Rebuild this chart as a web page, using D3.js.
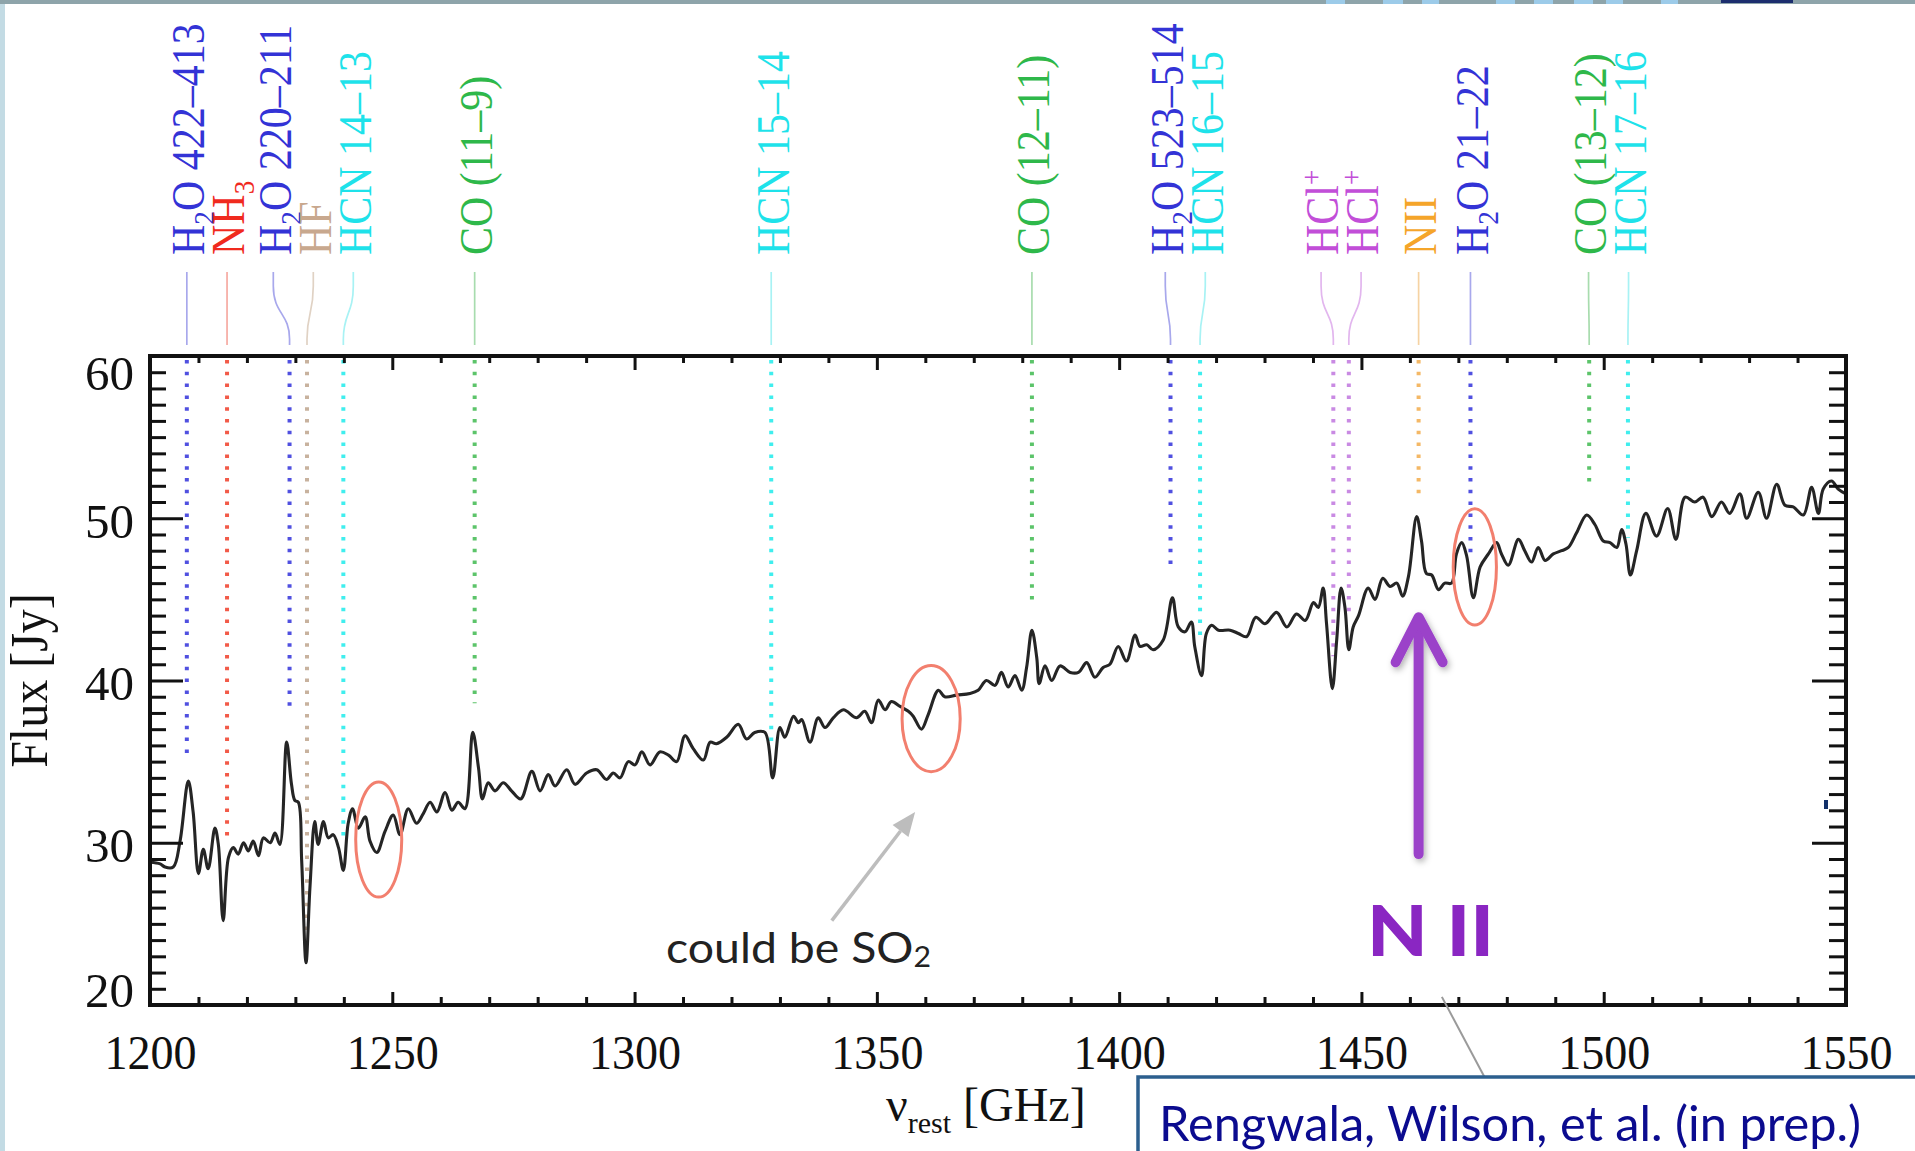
<!DOCTYPE html>
<html>
<head>
<meta charset="utf-8">
<script src="https://cdn.jsdelivr.net/npm/d3@7"></script>
<style>
  html, body { margin: 0; padding: 0; background: #fff; }
  svg { display: block; }
</style>
</head>
<body>
<svg id="chart" width="1915" height="1151"></svg>
<script>
// ---------------------------------------------------------------
// Spectrum: rest frequency (GHz) and flux density (Jy)
// ---------------------------------------------------------------
const freqGHz = [
  1200.0, 1202.1, 1203.1, 1204.8, 1206.2, 1207.9, 1208.9, 1210.0, 1211.0, 1212.0,
  1213.4, 1214.1, 1215.1, 1216.2, 1217.2, 1218.2, 1219.3, 1220.3, 1221.3, 1222.4,
  1223.4, 1224.8, 1225.8, 1226.8, 1228.2, 1229.2, 1229.9, 1230.6, 1231.3, 1232.2,
  1233.0, 1234.0, 1234.7, 1235.8, 1236.8, 1237.8, 1238.9, 1239.9, 1240.9, 1241.8,
  1243.0, 1244.4, 1245.4, 1246.8, 1248.5, 1250.2, 1251.6, 1253.3, 1255.0, 1256.4,
  1257.8, 1259.2, 1260.9, 1262.3, 1263.6, 1265.0, 1266.6, 1267.8, 1268.6, 1269.8,
  1271.2, 1272.9, 1274.6, 1276.5, 1278.8, 1280.5, 1282.2, 1283.6, 1286.0, 1287.7,
  1290.1, 1292.2, 1294.2, 1295.6, 1297.0, 1298.7, 1300.1, 1301.5, 1303.2, 1305.2,
  1307.0, 1308.7, 1310.4, 1312.1, 1314.2, 1315.6, 1316.9, 1319.0, 1321.4, 1323.1,
  1324.8, 1326.9, 1328.5, 1330.0, 1331.0, 1332.8, 1333.8, 1334.5, 1336.2, 1337.9,
  1339.3, 1341.0, 1343.1, 1345.8, 1347.5, 1348.9, 1350.3, 1351.7, 1353.0, 1354.8,
  1356.5, 1357.5, 1359.2, 1360.6, 1362.7, 1364.0, 1366.5, 1369.2, 1370.9, 1372.6,
  1374.4, 1375.7, 1377.1, 1378.5, 1379.9, 1380.9, 1382.0, 1383.0, 1383.5, 1384.7,
  1386.1, 1387.8, 1389.9, 1391.6, 1393.3, 1395.0, 1396.7, 1398.1, 1399.8, 1401.5,
  1403.3, 1404.3, 1405.7, 1407.0, 1409.1, 1411.0, 1412.2, 1413.6, 1414.9, 1415.6,
  1417.0, 1418.0, 1419.1, 1420.5, 1422.9, 1424.6, 1426.3, 1428.2, 1430.1, 1432.5,
  1434.6, 1436.6, 1438.4, 1440.1, 1441.1, 1442.1, 1442.8, 1444.0, 1444.9, 1445.8,
  1446.6, 1447.4, 1448.3, 1449.4, 1451.4, 1452.8, 1454.4, 1455.9, 1457.3, 1458.5,
  1459.7, 1461.4, 1462.4, 1463.4, 1464.5, 1465.9, 1467.2, 1468.6, 1469.6, 1470.7,
  1471.7, 1473.1, 1474.5, 1476.2, 1477.9, 1478.9, 1480.3, 1482.4, 1483.7, 1485.1,
  1486.5, 1487.9, 1489.6, 1491.3, 1492.7, 1494.4, 1496.5, 1498.2, 1499.9, 1501.3,
  1502.7, 1503.7, 1504.6, 1505.5, 1506.8, 1508.7, 1510.9, 1513.2, 1514.9, 1516.8,
  1518.8, 1520.5, 1522.3, 1524.3, 1526.0, 1528.1, 1529.5, 1531.9, 1533.6, 1535.7,
  1537.4, 1539.1, 1541.2, 1542.9, 1544.3, 1545.3, 1547.0, 1548.4, 1550.0
];
const fluxJy = [
  28.8, 28.7, 28.5, 28.5, 30.1, 33.8, 31.9, 28.1, 29.6, 28.4,
  30.9, 29.9, 25.2, 29.1, 29.7, 29.3, 30.0, 29.5, 30.1, 29.2,
  30.3, 30.0, 30.6, 29.9, 36.2, 33.6, 32.6, 32.5, 28.9, 22.6,
  27.2, 31.3, 29.9, 31.3, 30.3, 30.5, 29.7, 28.3, 31.2, 32.1,
  30.9, 31.6, 30.1, 29.4, 30.7, 31.7, 30.5, 32.1, 31.2, 31.8,
  32.5, 31.9, 33.1, 32.0, 32.5, 32.1, 36.8, 34.6, 32.7, 33.7,
  33.2, 33.7, 33.2, 32.7, 34.4, 33.2, 34.2, 33.5, 34.5, 33.6,
  34.3, 34.5, 33.9, 34.3, 34.0, 35.0, 34.8, 35.6, 34.8, 35.6,
  35.4, 35.0, 36.6, 35.8, 35.1, 36.2, 36.1, 36.5, 37.3, 36.4,
  36.8, 36.8, 34.0, 37.1, 36.5, 37.8, 37.4, 37.6, 36.2, 37.7,
  37.1, 37.7, 38.2, 37.7, 38.1, 37.4, 38.8, 38.2, 38.7, 38.4,
  38.1, 37.8, 37.0, 37.9, 39.4, 39.0, 39.1, 39.2, 39.4, 40.0,
  39.7, 40.5, 39.6, 40.3, 39.4, 40.8, 43.1, 41.4, 39.8, 40.9,
  40.0, 40.9, 40.5, 40.5, 41.1, 40.2, 40.8, 41.0, 42.1, 41.2,
  42.8, 42.1, 42.2, 41.9, 42.5, 45.1, 43.3, 43.0, 43.6, 42.1,
  40.3, 42.9, 43.4, 43.1, 43.1, 42.9, 42.7, 43.9, 43.5, 44.2,
  43.3, 44.1, 43.7, 44.8, 44.5, 45.7, 43.5, 39.5, 42.5, 45.7,
  44.5, 41.9, 43.3, 44.0, 45.7, 45.0, 46.3, 45.8, 46.0, 45.2,
  46.4, 50.1, 48.6, 46.6, 46.5, 45.6, 46.0, 46.0, 47.8, 48.5,
  47.7, 45.1, 47.0, 47.8, 48.5, 47.8, 47.1, 48.7, 48.0, 47.3,
  48.2, 47.4, 47.8, 48.0, 48.2, 49.1, 50.2, 49.6, 48.6, 48.5,
  48.2, 49.3, 48.4, 46.5, 48.0, 50.3, 48.9, 50.6, 48.7, 51.3,
  51.0, 51.3, 50.1, 51.0, 50.3, 51.5, 50.0, 51.6, 50.0, 52.1,
  50.8, 50.7, 50.2, 51.9, 50.3, 51.8, 52.3, 51.8, 51.5
];

// ---------------------------------------------------------------
// Line identifications ("_x" = subscript, "^x" = superscript)
// ---------------------------------------------------------------
const lineLabels = [
  "H_2O 422–413", "NH_3", "H_2O 220–211", "HF", "HCN 14–13", "CO (11–9)",
  "HCN 15–14", "CO (12–11)", "H_2O 523–514", "HCN 16–15", "HCl^+", "HCl^+",
  "NII", "H_2O 21–22", "CO (13–12)", "HCN 17–16"
];
const lineFreqs = [
  1207.6, 1215.9, 1228.8, 1232.4, 1239.9, 1267.0,
  1328.2, 1382.0, 1410.6, 1416.7, 1444.2, 1447.4,
  1461.8, 1472.5, 1497.0, 1505.0
];
const lineSpecies = [
  "H2O", "NH3", "H2O", "HF", "HCN", "CO",
  "HCN", "CO", "H2O", "HCN", "HClp", "HClp",
  "NII", "H2O", "CO", "HCN"
];
// flux level (Jy) where each marker line stops
const lineStopJy = [
  35.5, 30.3, 38.0, 24.1, 30.4, 38.6,
  36.2, 44.9, 47.0, 42.3, 41.5, 43.8,
  51.1, 47.6, 52.2, 48.8
];

// Axis ticks
const xMajorTicks = [1200, 1250, 1300, 1350, 1400, 1450, 1500, 1550];
const yMajorTicks = [20, 30, 40, 50, 60];

// Circled features: centre (GHz, Jy) and half extents (GHz, Jy)
const circleFreq = [1247.2, 1361.2, 1473.4];
const circleFlux = [30.2, 37.65, 47.0];
const circleHalfGHz = [4.75, 6.0, 4.46];
const circleHalfJy = [3.55, 3.27, 3.58];

// Annotation anchor points (GHz, Jy)
const so2ArrowFreq = [1340.7, 1357.9];
const so2ArrowFlux = [25.2, 31.9];
const nIIArrowFlux = [29.3, 43.9];
const calloutFreq = [1466.6, 1475.5];
const calloutFlux = [20.5, 15.5];

// ---------------------------------------------------------------
const W = 1915, H = 1151;
const plot = { left: 150, right: 1846, top: 356, bottom: 1005 };
const serif = "'Liberation Serif', 'Times New Roman', serif";
const sans = "Lato, 'Open Sans', sans-serif";

const speciesColor = {
  H2O:  { text: "#3333d6", dots: "#5050e0", link: "#a8a8ec" },
  NH3:  { text: "#f02a1e", dots: "#f25a48", link: "#f6aaa2" },
  HF:   { text: "#c8a88e", dots: "#c8b29e", link: "#e0d2c4" },
  HCN:  { text: "#1ee2ea", dots: "#40eeee", link: "#a8f2f4" },
  CO:   { text: "#2eb84a", dots: "#5cc46a", link: "#a8dcae" },
  HClp: { text: "#c24ed8", dots: "#c98ae3", link: "#e2b6ee" },
  NII:  { text: "#f5a52a", dots: "#f4b866", link: "#f6d3a3" }
};

const svg = d3.select("#chart");

const x = d3.scaleLinear().domain([1200, 1550]).range([plot.left, plot.right]);
const y = d3.scaleLinear().domain([20, 60]).range([plot.bottom, plot.top]);

const defs = svg.append("defs");
const shadow = defs.append("filter").attr("id", "arrowShadow")
  .attr("x", "-50%").attr("y", "-20%").attr("width", "200%").attr("height", "140%");
shadow.append("feDropShadow").attr("dx", 2).attr("dy", 3)
  .attr("stdDeviation", 3).attr("flood-color", "#000").attr("flood-opacity", 0.3);

// background and outer frame of the slide
svg.append("rect").attr("width", W).attr("height", H).attr("fill", "#fff");
svg.append("rect").attr("x", 0).attr("y", 0).attr("width", 5).attr("height", H).attr("fill", "#c3dbe4");
svg.append("rect").attr("x", 0).attr("y", 0).attr("width", W).attr("height", 4).attr("fill", "#8ea4aa");
// strip of the slide header visible at top right
[[1326, 19], [1383, 20], [1422, 17], [1496, 19], [1534, 19], [1574, 19], [1606, 17], [1661, 17]]
  .forEach(([bx, bw]) => svg.append("rect").attr("x", bx).attr("y", 0).attr("width", bw).attr("height", 4).attr("fill", "#9ccbe9"));
svg.append("rect").attr("x", 1721).attr("y", 0).attr("width", 72).attr("height", 3).attr("fill", "#1c2e6e");

// ---------------------------------------------------------------
// Line markers: labels above the frame, connectors, dotted drops
// ---------------------------------------------------------------
function spread(pos, gap) {
  const p = pos.slice();
  for (let it = 0; it < 300; it++) {
    let moved = false;
    for (let i = 1; i < p.length; i++) {
      const d = p[i] - p[i - 1];
      if (d < gap - 0.01) {
        const s = (gap - d) / 2;
        p[i - 1] -= s; p[i] += s; moved = true;
      }
    }
    if (!moved) break;
  }
  return p;
}

const lineX = lineFreqs.map(f => x(f));
const labelX = spread(lineX, 40);

const labelFont = 42, labelStretch = 1.1;
const labelBottom = 255, linkTop = 272, linkBottom = 345;

const markers = svg.append("g").attr("class", "line-markers");

lineFreqs.forEach((f, i) => {
  const c = speciesColor[lineSpecies[i]];
  const lx = labelX[i], px = lineX[i];

  // connector from label to the frame
  const path = d3.path();
  path.moveTo(lx, linkTop);
  path.lineTo(lx, linkTop + 14);
  path.bezierCurveTo(lx, linkTop + 42, px, linkBottom - 32, px, linkBottom - 6);
  path.lineTo(px, linkBottom);
  markers.append("path").attr("d", path.toString())
    .attr("fill", "none").attr("stroke", c.link).attr("stroke-width", 1.7);

  // dotted drop inside the frame
  markers.append("line")
    .attr("x1", px).attr("x2", px)
    .attr("y1", plot.top + 4).attr("y2", y(lineStopJy[i]))
    .attr("stroke", c.dots).attr("stroke-width", 4)
    .attr("stroke-dasharray", "3.5 8.3");

  // rotated label
  const cx = lx + 2;
  const tx = cx + labelStretch * 0.331 * labelFont;
  const t = markers.append("text")
    .attr("transform", `translate(${tx},${labelBottom}) rotate(-90) scale(1,${labelStretch})`)
    .attr("font-family", serif).attr("font-size", labelFont)
    .attr("fill", c.text);
  const parts = lineLabels[i].split(/([_^].)/).filter(s => s.length);
  let pendingShift = 0;
  parts.forEach(p => {
    if (p[0] === "_") {
      t.append("tspan").attr("font-size", labelFont * 0.65).attr("dy", 9 + pendingShift).text(p[1]);
      pendingShift = -9;
    } else if (p[0] === "^") {
      t.append("tspan").attr("font-size", labelFont * 0.65).attr("dy", -16 + pendingShift).text(p[1]);
      pendingShift = 16;
    } else {
      t.append("tspan").attr("dy", pendingShift).text(p);
      pendingShift = 0;
    }
  });
});

// ---------------------------------------------------------------
// Spectrum
// ---------------------------------------------------------------
const spectrum = d3.zip(freqGHz, fluxJy);
svg.append("path")
  .datum(spectrum)
  .attr("fill", "none")
  .attr("stroke", "#252525")
  .attr("stroke-width", 3.1)
  .attr("stroke-linejoin", "round")
  .attr("d", d3.line().x(d => x(d[0])).y(d => y(d[1])).curve(d3.curveCatmullRom.alpha(0.5)));

// circled features
circleFreq.forEach((f, i) => {
  svg.append("ellipse")
    .attr("cx", x(f)).attr("cy", y(circleFlux[i]))
    .attr("rx", x(f + circleHalfGHz[i]) - x(f))
    .attr("ry", y(circleFlux[i] - circleHalfJy[i]) - y(circleFlux[i]))
    .attr("fill", "none").attr("stroke", "#f27f6e").attr("stroke-width", 3);
});

// ---------------------------------------------------------------
// Frame and axes (ticks point inward)
// ---------------------------------------------------------------
const axisColor = "#111";
const xMinor = d3.range(1200, 1551, 10).filter(v => v % 50 !== 0);
const yMinor = d3.range(20, 61, 1).filter(v => v % 10 !== 0);

function styleAxis(g) {
  g.attr("color", axisColor).attr("font-family", null).attr("font-size", null);
  g.select(".domain").remove();
  g.selectAll(".tick line").attr("stroke-width", 3);
  g.selectAll(".tick text").filter(function () { return !this.textContent; }).remove();
}

// bottom
svg.append("g").attr("transform", `translate(0,${plot.bottom})`)
  .call(d3.axisBottom(x).tickValues(xMinor).tickSize(-8).tickFormat(""))
  .call(styleAxis);
const gxb = svg.append("g").attr("transform", `translate(0,${plot.bottom})`)
  .call(d3.axisBottom(x).tickValues(xMajorTicks).tickSize(-13).tickPadding(29).tickFormat(d3.format("d")))
  .call(styleAxis);
gxb.selectAll("text").attr("font-family", serif).attr("font-size", 49).attr("fill", axisColor)
  .attr("transform", "scale(0.94,1)");

// top
svg.append("g").attr("transform", `translate(0,${plot.top})`)
  .call(d3.axisTop(x).tickValues(xMinor).tickSize(-7).tickFormat(""))
  .call(styleAxis);
svg.append("g").attr("transform", `translate(0,${plot.top})`)
  .call(d3.axisTop(x).tickValues(xMajorTicks).tickSize(-14).tickFormat(""))
  .call(styleAxis);

// left
svg.append("g").attr("transform", `translate(${plot.left},0)`)
  .call(d3.axisLeft(y).tickValues(yMinor).tickSize(-16).tickFormat(""))
  .call(styleAxis);
const gyl = svg.append("g").attr("transform", `translate(${plot.left},0)`)
  .call(d3.axisLeft(y).tickValues(yMajorTicks).tickSize(-33).tickPadding(16).tickFormat(d3.format("d")))
  .call(styleAxis);
gyl.selectAll("text")
  .attr("font-family", serif).attr("font-size", 49).attr("fill", axisColor)
  .attr("y", d => {
    const c = Math.max(plot.top + 18, Math.min(plot.bottom - 14, y(d) + 3.5));
    return c - y(d);
  });

// right
svg.append("g").attr("transform", `translate(${plot.right},0)`)
  .call(d3.axisRight(y).tickValues(yMinor).tickSize(-17).tickFormat(""))
  .call(styleAxis);
svg.append("g").attr("transform", `translate(${plot.right},0)`)
  .call(d3.axisRight(y).tickValues(yMajorTicks).tickSize(-34).tickFormat(""))
  .call(styleAxis);

// frame
svg.append("rect")
  .attr("x", plot.left).attr("y", plot.top)
  .attr("width", plot.right - plot.left).attr("height", plot.bottom - plot.top)
  .attr("fill", "none").attr("stroke", axisColor).attr("stroke-width", 4);

// axis titles
svg.append("text")
  .attr("transform", `translate(47,${(plot.top + plot.bottom) / 2}) rotate(-90) scale(1,1.12)`)
  .attr("text-anchor", "middle")
  .attr("font-family", serif).attr("font-size", 48).attr("fill", axisColor)
  .text("Flux [Jy]");

const xt = svg.append("text")
  .attr("x", 886).attr("y", 1121)
  .attr("font-family", serif).attr("font-size", 48).attr("fill", axisColor);
xt.append("tspan").text("\u03BD");
xt.append("tspan").attr("font-size", 30).attr("dy", 12).text("rest");
xt.append("tspan").attr("dy", -12).text(" [GHz]");

// ---------------------------------------------------------------
// Annotations
// ---------------------------------------------------------------
// "could be SO2" with pointer
{
  const x1 = x(so2ArrowFreq[0]), y1 = y(so2ArrowFlux[0]);
  const x2 = x(so2ArrowFreq[1]), y2 = y(so2ArrowFlux[1]);
  const ang = Math.atan2(y2 - y1, x2 - x1);
  const headLen = 24, headHalf = 10;
  const bx = x2 - headLen * Math.cos(ang), by = y2 - headLen * Math.sin(ang);
  svg.append("line").attr("x1", x1).attr("y1", y1).attr("x2", bx).attr("y2", by)
    .attr("stroke", "#bdbdbd").attr("stroke-width", 3.5);
  svg.append("path")
    .attr("d", `M${x2},${y2} L${bx - headHalf * Math.sin(ang)},${by + headHalf * Math.cos(ang)} L${bx + headHalf * Math.sin(ang)},${by - headHalf * Math.cos(ang)} Z`)
    .attr("fill", "#bdbdbd");
}
const so2 = svg.append("text")
  .attr("x", x(1306.5)).attr("y", y(22.6))
  .attr("font-family", sans).attr("font-size", 43).attr("fill", "#222")
  .attr("textLength", 265).attr("lengthAdjust", "spacingAndGlyphs");
so2.append("tspan").text("could be SO");
so2.append("tspan").attr("font-size", 28).attr("dy", 4).text("2");

// N II arrow
{
  const ax = x(lineFreqs[lineLabels.indexOf("NII")]);
  const yTip = y(nIIArrowFlux[1]), yBase = y(nIIArrowFlux[0]);
  const g = svg.append("g").attr("filter", "url(#arrowShadow)")
    .attr("stroke", "#9b42c9").attr("stroke-width", 10)
    .attr("stroke-linecap", "round").attr("stroke-linejoin", "round").attr("fill", "none");
  g.append("line").attr("x1", ax).attr("x2", ax).attr("y1", yBase).attr("y2", yTip + 4);
  g.append("path").attr("d", `M${ax - 23},${yTip + 45} L${ax},${yTip} L${ax + 24},${yTip + 45}`);
  svg.append("text")
    .attr("x", ax + 12).attr("y", y(23.0))
    .attr("text-anchor", "middle")
    .attr("font-family", sans).attr("font-weight", 900).attr("font-size", 70)
    .attr("fill", "#8a26c2")
    .attr("textLength", 127).attr("lengthAdjust", "spacingAndGlyphs")
    .text("N II");
}

// reference callout
svg.append("line")
  .attr("x1", x(calloutFreq[0])).attr("y1", y(calloutFlux[0]))
  .attr("x2", x(calloutFreq[1])).attr("y2", y(calloutFlux[1]))
  .attr("stroke", "#9a9a9a").attr("stroke-width", 2);
svg.append("rect")
  .attr("x", 1138).attr("y", 1077).attr("width", 820).attr("height", 120)
  .attr("fill", "#fff").attr("stroke", "#2c5f8e").attr("stroke-width", 3.5);
svg.append("text")
  .attr("x", 1159).attr("y", 1141)
  .attr("font-family", sans).attr("font-size", 49).attr("fill", "#0b0b8f")
  .attr("textLength", 702).attr("lengthAdjust", "spacingAndGlyphs")
  .text("Rengwala, Wilson, et al. (in prep.)");

// small mark near the right edge of the frame
svg.append("rect").attr("x", 1824).attr("y", 800).attr("width", 4).attr("height", 9).attr("fill", "#12306a");
</script>
</body>
</html>
